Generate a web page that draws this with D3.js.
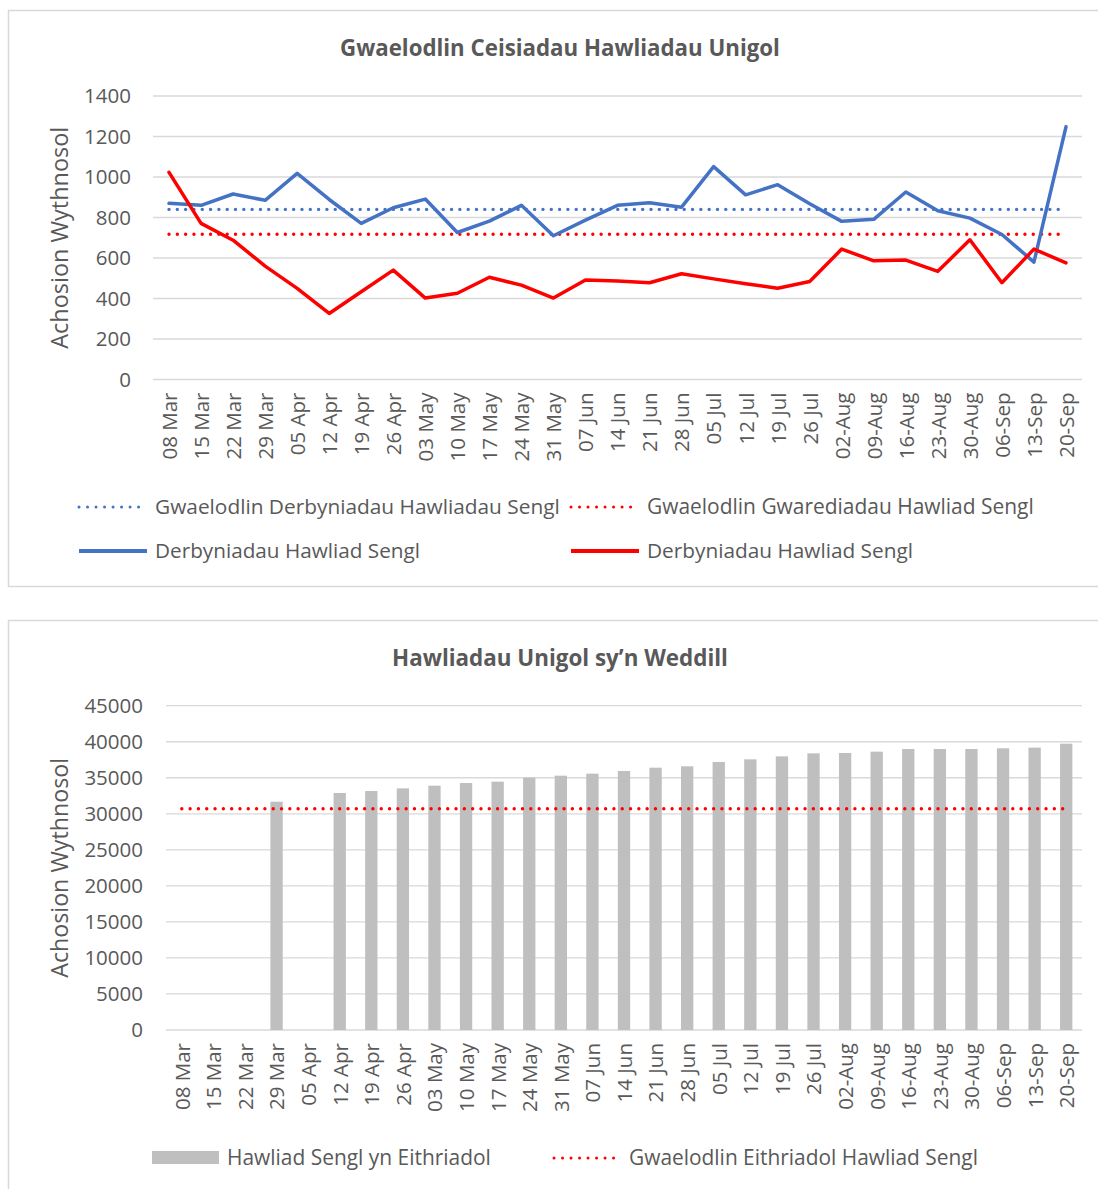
<!DOCTYPE html>
<html><head><meta charset="utf-8">
<script src="https://cdn.jsdelivr.net/npm/d3@7"></script>
<style>body{margin:0;background:#fff;} svg{display:block;font-family:"Open Sans",sans-serif;}</style>
</head><body><svg id="c" width="1098" height="1189"></svg>
<script>
// ---------- DATA ----------
const categories = ["08 Mar","15 Mar","22 Mar","29 Mar","05 Apr","12 Apr","19 Apr","26 Apr","03 May","10 May","17 May","24 May","31 May","07 Jun","14 Jun","21 Jun","28 Jun","05 Jul","12 Jul","19 Jul","26 Jul","02-Aug","09-Aug","16-Aug","23-Aug","30-Aug","06-Sep","13-Sep","20-Sep"];
const receipts   = [870,860,916,885,1018,889,771,848,891,726,782,860,710,787,860,873,851,1051,912,962,868,781,791,926,833,797,716,580,1248];
const clearances = [1023,771,688,560,450,326,433,540,402,426,505,466,402,491,486,478,522,497,473,451,484,644,586,590,534,690,478,644,576];
const receiptsBaseline = 840;
const clearancesBaseline = 717;
const outstanding = [null,null,null,31680,null,32890,33160,33530,33900,34270,34460,35010,35290,35570,35940,36400,36590,37190,37560,37970,38390,38440,38620,38990,38990,38990,39090,39180,39730];
const outstandingBaseline = 30700;
const topTicks = [0,200,400,600,800,1000,1200,1400];
const bottomTicks = [0,5000,10000,15000,20000,25000,30000,35000,40000,45000];
const topTitle = "Gwaelodlin Ceisiadau Hawliadau Unigol";
const bottomTitle = "Hawliadau Unigol sy\u2019n Weddill";
const yTitle = "Achosion Wythnosol";
const topLegend = ["Gwaelodlin Derbyniadau Hawliadau Sengl","Gwaelodlin Gwarediadau Hawliad Sengl","Derbyniadau Hawliad Sengl","Derbyniadau Hawliad Sengl"];
const bottomLegend = ["Hawliad Sengl yn Eithriadol","Gwaelodlin Eithriadol Hawliad Sengl"];

// ---------- STYLE ----------
const BLUE = "#4472C4", RED = "#FF0000", GREY = "#BFBFBF", GRID = "#D9D9D9", TXT = "#595959";
const svg = d3.select("#c");

function fit(sel, w){
  const n = sel.node(); const fs = parseFloat(sel.attr("font-size"));
  const cw = n.getComputedTextLength(); sel.attr("font-size", (fs*w/cw).toFixed(2));
}

// cards
svg.append("rect").attr("x",8.5).attr("y",10.5).attr("width",1110).attr("height",576)
  .attr("fill","#fff").attr("stroke",GRID).attr("stroke-width",1.5);
svg.append("rect").attr("x",8.5).attr("y",620.5).attr("width",1110).attr("height",620)
  .attr("fill","#fff").attr("stroke",GRID).attr("stroke-width",1.5);

function drawFrame(cfg){
  const g = svg.append("g");
  g.append("g").selectAll("line").data(cfg.ticks).join("line")
    .attr("x1",cfg.left).attr("x2",cfg.right)
    .attr("y1",d=>cfg.y(d)).attr("y2",d=>cfg.y(d))
    .attr("stroke",GRID).attr("stroke-width",1.3);
  const ya = g.append("g").attr("transform",`translate(${cfg.left},0)`)
    .call(d3.axisLeft(cfg.y).tickValues(cfg.ticks).tickSize(0).tickPadding(cfg.ypad).tickFormat(d3.format("d")));
  ya.select(".domain").remove();
  ya.selectAll("text").attr("font-size",20.5).attr("fill",TXT).attr("font-family","Open Sans");
  const xa = g.append("g").attr("transform",`translate(0,${cfg.y(0)})`)
    .call(d3.axisBottom(cfg.xp).tickSize(0));
  xa.select(".domain").remove();
  xa.selectAll("text").attr("font-size",20.5).attr("fill",TXT).attr("font-family","Open Sans")
    .attr("transform","rotate(-90)").attr("text-anchor","end")
    .attr("x",-13).attr("y",0).attr("dy","0.36em");
  const t = g.append("text").attr("x",560).attr("y",cfg.titleY).attr("text-anchor","middle")
    .attr("font-weight","bold").attr("font-size",20).attr("fill",TXT).text(cfg.title);
  fit(t, cfg.titleW);
  const yt = g.append("text")
    .attr("transform",`translate(${cfg.yTitleX},${(cfg.y.range()[0]+cfg.y.range()[1])/2}) rotate(-90)`)
    .attr("text-anchor","middle").attr("font-size",22).attr("fill",TXT).text(yTitle);
  fit(yt, cfg.yTitleW);
  return g;
}

// ---------- TOP CHART ----------
const xTop = d3.scalePoint().domain(categories).range([153,1082]).padding(0.5);
const yTop = d3.scaleLinear().domain([0,1400]).range([379.5,96]);
drawFrame({left:153,right:1082,y:yTop,xp:xTop,ticks:topTicks,ypad:22,title:topTitle,titleY:56,titleW:440,yTitleX:68,yTitleW:222});

const gTop = svg.append("g");
const dotted = sel => sel.attr("stroke-width",3.4).attr("stroke-linecap","round").attr("stroke-dasharray","0.01 8.3");
dotted(gTop.append("line").attr("x1",xTop(categories[0])).attr("x2",xTop(categories[categories.length-1]))
  .attr("y1",yTop(receiptsBaseline)).attr("y2",yTop(receiptsBaseline)).attr("stroke",BLUE));
dotted(gTop.append("line").attr("x1",xTop(categories[0])).attr("x2",xTop(categories[categories.length-1]))
  .attr("y1",yTop(clearancesBaseline)).attr("y2",yTop(clearancesBaseline)).attr("stroke",RED));
const lineTop = d3.line().x((d,i)=>xTop(categories[i])).y(d=>yTop(d));
gTop.append("path").datum(receipts).attr("d",lineTop).attr("fill","none").attr("stroke",BLUE)
  .attr("stroke-width",3.5).attr("stroke-linejoin","round").attr("stroke-linecap","round");
gTop.append("path").datum(clearances).attr("d",lineTop).attr("fill","none").attr("stroke",RED)
  .attr("stroke-width",3.5).attr("stroke-linejoin","round").attr("stroke-linecap","round");

// top legend
const legTop = [
  {label:topLegend[0], color:BLUE, dot:true,  x:78,  y:507, tw:405},
  {label:topLegend[1], color:RED,  dot:true,  x:570, y:507, tw:387},
  {label:topLegend[2], color:BLUE, dot:false, x:78,  y:551, tw:265},
  {label:topLegend[3], color:RED,  dot:false, x:570, y:551, tw:266}
];
legTop.forEach(l=>{
  const ln = svg.append("line").attr("x1",l.x+1).attr("x2",l.x+69).attr("y1",l.y).attr("y2",l.y).attr("stroke",l.color);
  if(l.dot) ln.attr("stroke-width",3).attr("stroke-linecap","round").attr("stroke-dasharray","0.01 8.5");
  else ln.attr("stroke-width",4);
  const t = svg.append("text").attr("x",l.x+77).attr("y",l.y+7).attr("font-size",20.5).attr("fill",TXT).text(l.label);
  fit(t,l.tw);
});

// ---------- BOTTOM CHART ----------
const xBand = d3.scaleBand().domain(categories).range([166,1082]).paddingInner(0.61).paddingOuter(0.305);
const xBot = d3.scalePoint().domain(categories).range([166,1082]).padding(0.5);
const yBot = d3.scaleLinear().domain([0,45000]).range([1030,705.7]);
drawFrame({left:166,right:1082,y:yBot,xp:xBot,ticks:bottomTicks,ypad:23,title:bottomTitle,titleY:666,titleW:336,yTitleX:68,yTitleW:220});

const gBot = svg.append("g");
gBot.selectAll("rect").data(outstanding.map((v,i)=>({c:categories[i],v})).filter(d=>d.v!=null)).join("rect")
  .attr("x",d=>xBand(d.c)).attr("width",xBand.bandwidth())
  .attr("y",d=>yBot(d.v)).attr("height",d=>yBot(0)-yBot(d.v)).attr("fill",GREY);
dotted(gBot.append("line").attr("x1",xBot(categories[0])).attr("x2",xBot(categories[categories.length-1]))
  .attr("y1",yBot(outstandingBaseline)).attr("y2",yBot(outstandingBaseline)).attr("stroke",RED));

// bottom legend
svg.append("rect").attr("x",152).attr("y",1151).attr("width",67).attr("height",13).attr("fill",GREY);
const bt1 = svg.append("text").attr("x",227).attr("y",1165).attr("font-size",20.5).attr("fill",TXT).text(bottomLegend[0]);
fit(bt1,264);
svg.append("line").attr("x1",554).attr("x2",621).attr("y1",1158).attr("y2",1158).attr("stroke",RED)
  .attr("stroke-width",3).attr("stroke-linecap","round").attr("stroke-dasharray","0.01 8.5");
const bt2 = svg.append("text").attr("x",629).attr("y",1165).attr("font-size",20.5).attr("fill",TXT).text(bottomLegend[1]);
fit(bt2,349);
</script></body></html>
